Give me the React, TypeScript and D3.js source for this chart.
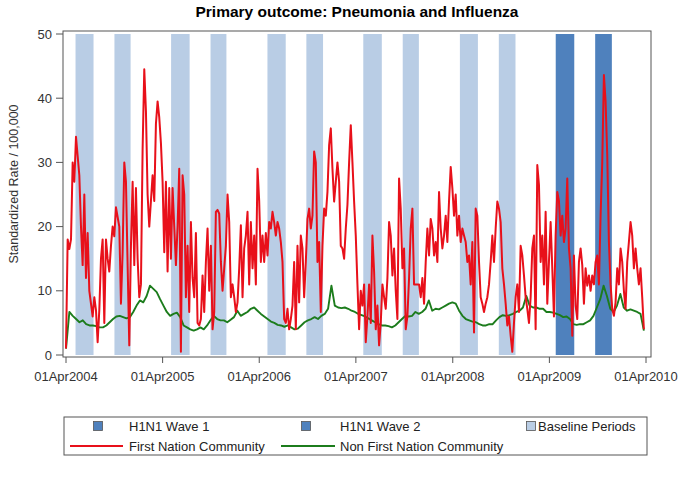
import React from "react";
import * as d3 from "d3";

const W = 685;
const H = 483;

const titleText = "Primary outcome: Pneumonia and Influenza";
const yAxisLabel = "Standardized Rate / 100,000";
const xTickDates = ["2004-04-01", "2005-04-01", "2006-04-01", "2007-04-01", "2008-04-01", "2009-04-01", "2010-04-01"];
const yTicks = [0, 10, 20, 30, 40, 50];

const baselineStarts = ["2004-05-07", "2004-10-01", "2005-05-03", "2005-09-29", "2006-05-02", "2006-09-26", "2007-04-29", "2007-09-25", "2008-04-28", "2008-09-22"];
const baselineEnds = ["2004-07-14", "2004-12-01", "2005-07-12", "2005-11-28", "2006-07-10", "2006-11-28", "2007-07-08", "2007-11-25", "2008-07-05", "2008-11-24"];
const waveNames = ["H1N1 Wave 1", "H1N1 Wave 2"];
const waveStarts = ["2009-04-25", "2009-09-21"];
const waveEnds = ["2009-07-04", "2009-11-23"];

const seriesStart = "2004-04-01";
const seriesEnd = "2010-03-24";

const firstNationRate = [
  1, 18, 16.5, 18, 30, 27, 34, 31, 28, 20, 14, 25, 12, 19, 10, 8, 6, 9, 7, 2, 7, 15, 18, 5, 18, 15, 13, 17, 20, 18.5,
  23, 21.5, 20, 8, 16, 30, 27, 14, 1.5, 17, 27, 14, 26, 15, 9, 11, 32, 44.5, 38, 25, 20, 24, 28, 24, 36, 39.5, 37, 33, 27, 16,
  27, 13, 26, 15, 26, 20, 14, 20, 29,
  0.5, 28, 25, 9, 17, 6.7, 20.7, 12, 9, 19, 5, 4.6, 5.6, 12.4, 6.7, 14.5, 19.7, 10, 17, 4, 6.7, 22.3, 22.6, 22, 14.5,
  10, 13.5, 17, 25, 20.7, 9, 11, 9, 6.7, 8.2, 13.5, 20.2, 9, 16.6, 18.6, 22.3, 11, 20.7, 13.5, 18.6, 11, 29, 24, 14.5, 18.6,
  14.5, 19, 15.5, 20.7, 19.7, 22.3, 20.7, 18.6, 20.7, 19.7, 17.6, 14.5, 5.6, 5, 7.2, 4, 5.6, 7.7, 14.5, 4, 17,
  8.2, 18.6, 16.6, 9, 14.5, 21.2, 22.8, 19.7, 21.7, 31.7, 30, 14.5, 17.6, 6.7, 17, 22.8, 21.7, 25.4, 32.7, 35.3,
  29, 23.9, 27, 30, 27, 17, 16.6, 15, 19.7, 23.4, 30, 35.8, 30, 23.9, 18.6, 11, 4, 10, 7.7, 11, 2, 6, 11, 5, 18.6,
  13, 4, 7.7, 1.5, 5, 11, 9, 7.2, 12, 20.7, 18.6, 12.4, 16.6, 10, 5.6, 27.5, 22.8, 13.5, 16.6, 4, 6, 12, 19.7, 22.8, 11, 11,
  11, 11, 9, 12, 8, 14.5, 19.7, 15.5, 21.2, 19.7, 15.5, 17.6, 14.5, 25.4, 19.7, 16.6, 18.6, 21.7, 17.6, 24,
  29.3, 26, 21.7, 25, 18.6, 21.7, 17.6, 19.7, 18.6, 17.6, 14.5, 15.5, 11, 17.6, 3.5, 22.8, 21.7, 14.5, 9, 8,
  6.7, 8, 9, 11, 14.5, 18.6, 14.5, 19.7, 23.9, 22.8, 20.7, 13.5, 11, 8, 4.6, 6, 3, 0.5, 5, 9, 11, 6.7, 17, 15.5, 12.4,
  9, 7.2, 5, 9, 16.6, 18.6,
  4, 29.6, 26.5, 14.5, 18.6, 11, 22.3, 8, 14.5, 20.7, 13.5, 6, 18.6, 25.4, 24, 18.6, 21.7, 17.6, 19.7, 27.5,
  16.6, 13.5, 3, 15.5, 7.7, 5.6, 14.5, 16.6, 14, 8, 13.5, 10.8, 12.4, 10, 12.4, 11, 14.5, 15.5, 11, 21.7,
  30, 43.6, 39.5, 31.2, 17.6, 11, 7.2, 6.1, 8.2, 13.5, 11, 16.6, 14.5, 10, 7.2, 14.5, 17.6, 20.7, 18.6, 13.5,
  16.6, 13.5, 11, 13.5, 9, 4,
];

const nonFirstNationRate = [
  1, 6.7, 6.1, 5.6, 5.1, 5.4, 4.8, 4.6, 4.6, 4.5, 4.3, 4.3, 4.6, 5.1, 5.6, 6, 6.1, 5.9, 5.7, 5.9, 6.7, 7.7, 8.5, 8.2, 9.2,
  10.8, 10.3, 9.8, 8.7, 7.7, 6.7, 6.1, 6.4, 6.6, 5.9,
  4.6, 4.3, 4.0, 3.8, 4.0, 4.3, 4.0, 4.6, 5.4, 6.1, 5.6, 5.4, 5.4, 5.1, 5.5, 5.9, 6.9, 6.1, 6.4, 6.7, 7.2, 7.4, 6.9, 6.4, 6.0,
  5.6, 5.2, 5.0, 4.7, 4.6, 4.4, 4.6, 4.3, 4.0, 4.1,
  4.6, 5.1, 5.4, 5.6, 5.9, 5.6, 6.1, 6.4, 7.2, 10.8, 7.7, 7.4, 7.3, 7.4, 7.2, 6.9, 6.7, 6.4, 6.2, 6.0, 5.7, 5.4, 5.1, 4.8, 4.6,
  4.6, 4.5, 4.3, 4.6, 5.1, 5.6, 6.1, 6.0, 6.1, 6.7,
  6.4, 6.7, 7.2, 8.5, 6.9, 7.2, 7.1, 7.4, 7.7, 8.0, 8.2, 8.0, 6.9, 6.1, 5.6, 5.4, 5.2, 5.1, 4.8, 4.6, 4.6, 4.8, 4.8, 5.4, 5.9,
  6.2, 6.1, 6.2, 6.4, 6.7, 6.9, 7.4, 9.2, 7.7, 7.4,
  7.4, 7.2, 7.2, 6.7, 6.7, 6.6, 6.4, 6.2, 5.9, 6.0, 5.6, 4.8, 4.7, 4.8, 4.8, 5.1, 5.4, 6.1, 7.4, 8.7, 10.8, 9.2, 7.2, 6.7, 7.7,
  9.5, 7.4, 6.9, 7.1, 6.9, 6.7, 6.4, 3.8,
];

const legendRow1 = ["H1N1 Wave 1", "H1N1 Wave 2", "Baseline Periods"];
const legendRow2 = ["First Nation Community", "Non First Nation Community"];

const FONT = "'Liberation Sans', Arial, Helvetica, sans-serif";
const LIGHT = "#b9cde5";
const DARK = "#4f81bd";
const RED = "#e8101a";
const GREEN = "#1c7c1c";

export default function App() {
  const parse = d3.utcParse("%Y-%m-%d");
  const frame = { left: 63, right: 651, top: 31, bottom: 357 };
  const x = d3.scaleUtc().domain([parse("2004-04-01")!, parse("2010-04-01")!]).range([66, 646]);
  const y = d3.scaleLinear().domain([0, 50]).range([355, 34]);
  const fmt = d3.utcFormat("%d%b%Y");

  const t0 = parse(seriesStart)!.getTime();
  const t1 = parse(seriesEnd)!.getTime();
  const toPts = (vals: number[]) =>
    vals.map((v, i) => ({ d: new Date(t0 + ((t1 - t0) * i) / (vals.length - 1)), v }));
  const line = d3
    .line<{ d: Date; v: number }>()
    .x((p) => x(p.d))
    .y((p) => y(p.v));

  const redPath = line(toPts(firstNationRate)) || "";
  const greenPath = line(toPts(nonFirstNationRate)) || "";

  const bars = baselineStarts.map((s, i) => ({ s: parse(s)!, e: parse(baselineEnds[i])!, c: LIGHT }));
  const waves = waveStarts.map((s, i) => ({ s: parse(s)!, e: parse(waveEnds[i])!, c: DARK, name: waveNames[i] }));

  const legendY1 = 426;
  const legendY2 = 446;

  return (
    <svg width={W} height={H} style={{ position: "absolute", left: 0, top: 0, background: "#fff" }} fontFamily={FONT}>
      <rect x={0} y={0} width={W} height={H} fill="#fff" />
      <text x={(frame.left + frame.right) / 2} y={17} textAnchor="middle" fontSize={15.5} fontWeight="bold" fill="#000">
        {titleText}
      </text>

      {[...bars, ...waves].map((b, i) => (
        <rect key={i} x={x(b.s)} y={y(50)} width={x(b.e) - x(b.s)} height={y(0) - y(50)} fill={b.c} />
      ))}

      <path d={greenPath} fill="none" stroke={GREEN} strokeWidth={1.9} strokeLinejoin="round" />
      <path d={redPath} fill="none" stroke={RED} strokeWidth={2} strokeLinejoin="round" />

      <rect
        x={frame.left}
        y={frame.top}
        width={frame.right - frame.left}
        height={frame.bottom - frame.top}
        fill="none"
        stroke="#555"
        strokeWidth={1}
      />

      {yTicks.map((t) => (
        <g key={t}>
          <line x1={frame.left - 7} x2={frame.left} y1={y(t)} y2={y(t)} stroke="#555" />
          <text x={frame.left - 11} y={y(t)} dy="0.35em" textAnchor="end" fontSize={13} fill="#333">
            {t}
          </text>
        </g>
      ))}
      {xTickDates.map((s) => {
        const d = parse(s)!;
        return (
          <g key={s}>
            <line x1={x(d)} x2={x(d)} y1={frame.bottom} y2={frame.bottom + 6} stroke="#555" />
            <text x={x(d)} y={frame.bottom + 24} textAnchor="middle" fontSize={13} fill="#333">
              {fmt(d)}
            </text>
          </g>
        );
      })}
      <text transform="translate(14,184) rotate(-90)" dy="0.35em" textAnchor="middle" fontSize={12.5} fill="#333">
        {yAxisLabel}
      </text>

      <rect x={64} y={417} width={583} height={38} fill="none" stroke="#555" strokeWidth={1} />
      <rect x={93.5} y={legendY1 - 4.5} width={9} height={9} fill={DARK} stroke="#555" strokeWidth={0.8} />
      <text x={129} y={legendY1} dy="0.35em" fontSize={13} fill="#222">{legendRow1[0]}</text>
      <rect x={301.5} y={legendY1 - 4.5} width={9} height={9} fill={DARK} stroke="#555" strokeWidth={0.8} />
      <text x={340} y={legendY1} dy="0.35em" fontSize={13} fill="#222">{legendRow1[1]}</text>
      <rect x={526.5} y={legendY1 - 4.5} width={9} height={9} fill={LIGHT} stroke="#555" strokeWidth={0.8} />
      <text x={538} y={legendY1} dy="0.35em" fontSize={13} fill="#222">{legendRow1[2]}</text>

      <line x1={70} x2={123} y1={legendY2} y2={legendY2} stroke={RED} strokeWidth={1.8} />
      <text x={129} y={legendY2} dy="0.35em" fontSize={13} fill="#222">{legendRow2[0]}</text>
      <line x1={281} x2={335} y1={legendY2} y2={legendY2} stroke={GREEN} strokeWidth={1.8} />
      <text x={340} y={legendY2} dy="0.35em" fontSize={13} fill="#222">{legendRow2[1]}</text>
    </svg>
  );
}
